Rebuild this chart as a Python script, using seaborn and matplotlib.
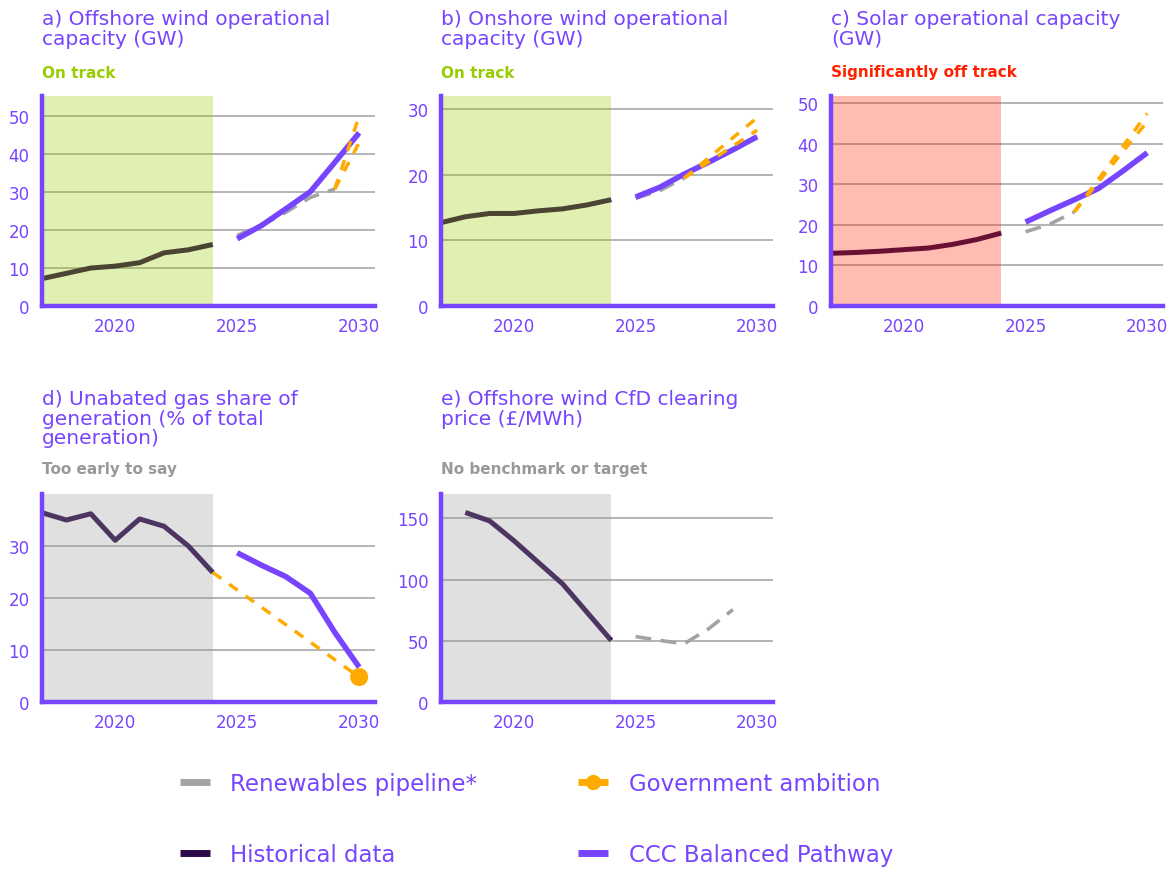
import matplotlib
matplotlib.use("Agg")
import matplotlib.pyplot as plt
from matplotlib.lines import Line2D
import seaborn as sns

# ---- data ----
hist_years = [2017, 2018, 2019, 2020, 2021, 2022, 2023, 2024]
proj_years = [2025, 2026, 2027, 2028, 2029, 2030]

# a) offshore wind (GW)
a_hist = [7.2, 8.6, 10.0, 10.5, 11.4, 14.0, 14.8, 16.2]
a_ccc = [17.7, 21.2, 25.6, 30.1, 37.8, 45.6]
a_pipe_years = [2025, 2026, 2027, 2028, 2029]
a_pipe = [18.6, 21.2, 24.7, 28.6, 30.8]
a_gov_years = [2029, 2030]
a_gov_high = [30.8, 50.0]
a_gov_low = [30.8, 43.0]

# b) onshore wind (GW)
b_hist = [12.7, 13.6, 14.1, 14.1, 14.5, 14.8, 15.4, 16.2]
b_ccc = [16.6, 18.1, 20.1, 21.9, 23.8, 25.8]
b_pipe_years = [2025, 2026, 2027]
b_pipe = [16.4, 17.6, 19.5]
b_gov_years = [2027, 2030]
b_gov_high = [19.5, 28.7]
b_gov_low = [19.5, 26.8]

# c) solar (GW)
c_hist = [13.0, 13.2, 13.5, 13.9, 14.3, 15.2, 16.4, 18.0]
c_ccc = [20.7, 23.5, 26.2, 29.0, 33.3, 37.8]
c_pipe_years = [2025, 2026, 2027]
c_pipe = [18.3, 20.2, 23.2]
c_gov_years = [2027, 2030]
c_gov_high = [23.2, 47.5]
c_gov_low = [23.2, 45.5]

# d) unabated gas share (%)
d_hist = [36.4, 35.0, 36.2, 31.1, 35.2, 33.8, 30.0, 24.9]
d_ccc = [28.7, 26.3, 24.1, 20.9, 13.4, 6.7]
d_gov_years = [2024, 2030]
d_gov = [24.9, 4.8]

# e) offshore wind CfD clearing price (GBP/MWh)
e_hist_years = [2018, 2019, 2020, 2021, 2022, 2023, 2024]
e_hist = [154.9, 148.0, 131.8, 114.1, 96.5, 73.4, 50.3]
e_pipe_years = [2025, 2026, 2027, 2028, 2029]
e_pipe = [53.5, 50.3, 47.6, 59.8, 75.5]

titles = [
    "a) Offshore wind operational\ncapacity (GW)",
    "b) Onshore wind operational\ncapacity (GW)",
    "c) Solar operational capacity\n(GW)",
    "d) Unabated gas share of\ngeneration (% of total\ngeneration)",
    "e) Offshore wind CfD clearing\nprice (£/MWh)",
]
statuses = ["On track", "On track", "Significantly off track",
            "Too early to say", "No benchmark or target"]

PURPLE = "#7744ff"
HIST = "#2b0a4a"
GREY = "#a3a3a3"
ORANGE = "#ffaa00"
STATUS_COL = {"On track": "#99cc00", "Significantly off track": "#ff2200",
              "Too early to say": "#999999", "No benchmark or target": "#999999"}

sns.set_theme(style="white")
plt.rcParams["font.family"] = ["DejaVu Sans"]

W, H = 1174, 870
fig = plt.figure(figsize=(W / 100, H / 100), dpi=100)


def make_ax(left, top, bottom, right):
    return fig.add_axes([left / W, 1 - bottom / H, (right - left) / W, (bottom - top) / H])


def style_ax(ax, ymax, yticks, status):
    ax.set_xlim(2017, 2030.65)
    ax.set_ylim(0, ymax)
    ax.set_xticks(range(2017, 2031))
    ax.set_xticklabels([str(y) if y in (2020, 2025, 2030) else "" for y in range(2017, 2031)])
    ax.set_yticks(yticks)
    ax.set_yticklabels([str(t) for t in yticks])
    for t in yticks[1:]:
        ax.axhline(t, color="#a0a0a0", lw=1.1, zorder=0.5)
    ax.axvspan(2017, 2024, color=STATUS_COL[status], alpha=0.3, lw=0, zorder=3)
    for s in ("top", "right"):
        ax.spines[s].set_visible(False)
    for s in ("left", "bottom"):
        ax.spines[s].set_color(PURPLE)
        ax.spines[s].set_linewidth(3.2)
        ax.spines[s].set_zorder(4)
    ax.tick_params(axis="both", colors=PURPLE, direction="out", length=6, width=3,
                   labelsize=12, labelcolor=PURPLE, pad=3)
    ax.tick_params(axis="x", pad=2)
    ax.set_xlabel("")
    ax.set_ylabel("")


def hist_line(ax, x, y):
    sns.lineplot(x=x, y=y, ax=ax, color=HIST, lw=3.6, zorder=2, solid_capstyle="butt")


def ccc_line(ax, x, y):
    sns.lineplot(x=x, y=y, ax=ax, color=PURPLE, lw=4, zorder=2.5, solid_capstyle="butt")


def pipe_line(ax, x, y):
    sns.lineplot(x=x, y=y, ax=ax, color=GREY, lw=2.6, zorder=2.2,
                 linestyle=(0, (4.4, 2.6)), dash_capstyle="butt")


def gov_line(ax, x, y):
    sns.lineplot(x=x, y=y, ax=ax, color=ORANGE, lw=2.5, zorder=2.6,
                 linestyle=(0, (3.0, 2.8)), dash_capstyle="butt")


axes_pos = [(42, 97, 307, 375), (441, 97, 307, 773), (831, 97, 307, 1163),
            (42, 495, 703, 375), (441, 495, 703, 773)]
axs = [make_ax(*p) for p in axes_pos]

# a
ax = axs[0]
hist_line(ax, hist_years, a_hist)
pipe_line(ax, a_pipe_years, a_pipe)
ccc_line(ax, proj_years, a_ccc)
gov_line(ax, a_gov_years, a_gov_high)
gov_line(ax, a_gov_years, a_gov_low)
style_ax(ax, 55.3, [0, 10, 20, 30, 40, 50], statuses[0])

# b
ax = axs[1]
hist_line(ax, hist_years, b_hist)
pipe_line(ax, b_pipe_years, b_pipe)
ccc_line(ax, proj_years, b_ccc)
gov_line(ax, b_gov_years, b_gov_high)
gov_line(ax, b_gov_years, b_gov_low)
style_ax(ax, 32, [0, 10, 20, 30], statuses[1])

# c
ax = axs[2]
hist_line(ax, hist_years, c_hist)
pipe_line(ax, c_pipe_years, c_pipe)
ccc_line(ax, proj_years, c_ccc)
gov_line(ax, c_gov_years, c_gov_high)
gov_line(ax, c_gov_years, c_gov_low)
style_ax(ax, 51.8, [0, 10, 20, 30, 40, 50], statuses[2])

# d
ax = axs[3]
hist_line(ax, hist_years, d_hist)
ccc_line(ax, proj_years, d_ccc)
gov_line(ax, d_gov_years, d_gov)
sns.scatterplot(x=d_gov_years[-1:], y=d_gov[-1:], ax=ax, color=ORANGE, s=170,
                edgecolor="none", zorder=5, clip_on=False)
style_ax(ax, 40, [0, 10, 20, 30], statuses[3])

# e
ax = axs[4]
hist_line(ax, e_hist_years, e_hist)
pipe_line(ax, e_pipe_years, e_pipe)
style_ax(ax, 170, [0, 50, 100, 150], statuses[4])

# titles and status labels
title_tops = [10, 10, 10, 390, 390]
status_y = [73, 73, 73, 470, 470]
for (left, top, bottom, right), t, ty, st, sy in zip(axes_pos, titles, title_tops, statuses, status_y):
    fig.text(left / W, 1 - ty / H, t, color=PURPLE, fontsize=14.5, va="top", ha="left",
             linespacing=1.05)
    fig.text(left / W, 1 - sy / H, st, color=STATUS_COL[st], fontsize=11, fontweight="bold",
             va="center", ha="left")

# legend
handles = [
    Line2D([], [], color=GREY, lw=5, solid_capstyle="butt"),
    Line2D([], [], color=HIST, lw=5, solid_capstyle="butt"),
    Line2D([], [], color=ORANGE, lw=5, marker="o", markersize=10, solid_capstyle="butt"),
    Line2D([], [], color=PURPLE, lw=5, solid_capstyle="butt"),
]
labels = ["Renewables pipeline*", "Historical data", "Government ambition", "CCC Balanced Pathway"]
leg = fig.legend(handles, labels, ncol=2, loc="upper left", bbox_to_anchor=(180 / W, 1 - 773 / H),
                 frameon=False, fontsize=16.5, handlelength=1.3, handletextpad=0.9,
                 labelspacing=2.1, columnspacing=4.4, borderpad=0, borderaxespad=0)
for txt in leg.get_texts():
    txt.set_color(PURPLE)

fig.savefig("out.png", dpi=100)
